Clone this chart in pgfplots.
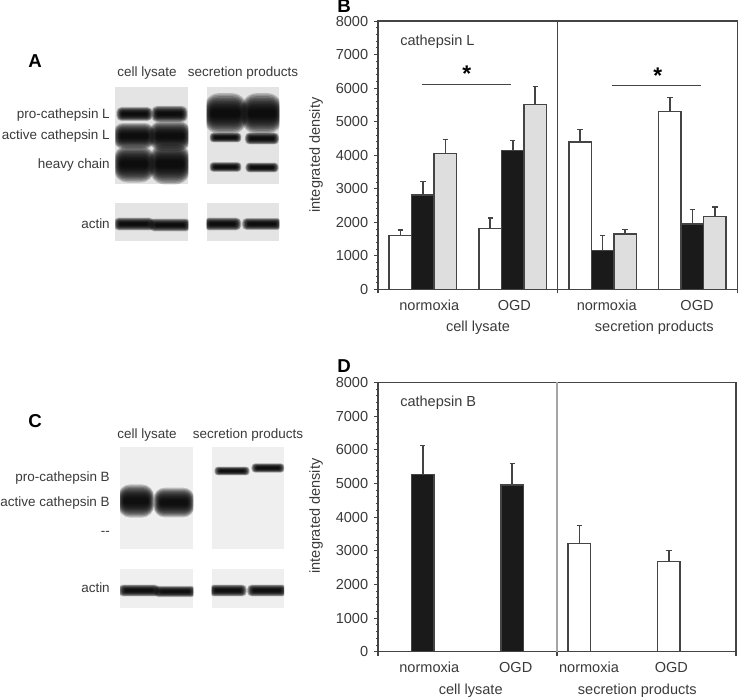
\documentclass[border=0pt]{standalone}
\usepackage{pgfplots}
\pgfplotsset{compat=1.18}
\usepackage{fontspec}
\setmainfont{Liberation Sans}
\definecolor{ink}{HTML}{3A3A3A}
\definecolor{axc}{HTML}{444444}
\definecolor{barblack}{HTML}{1A1A1A}
\definecolor{bargray}{HTML}{DEDEDE}
\definecolor{blotA}{HTML}{E4E4E4}
\definecolor{blotC}{HTML}{EFEFEF}
\newcommand{\fsmall}{\fontsize{10.1pt}{12pt}\selectfont}
\newcommand{\fchart}{\fontsize{10.9pt}{13pt}\selectfont}
% band: centre x, centre y, half width, half height, in px (blurred by nesting)
\newcommand{\band}[4]{%
  \foreach \k in {0,1,...,11}{%
    \pgfmathsetmacro{\aa}{#3*(1.14-0.035*\k)}%
    \pgfmathsetmacro{\bb}{#4*(1.85-0.14*\k)}%
    \pgfmathsetmacro{\rr}{0.75*0.75*min(\aa,\bb)}%
    \fill[black,opacity=0.2,rounded corners=\rr pt] (#1-\aa,#2-\bb) rectangle (#1+\aa,#2+\bb);
  }%
}
\pgfplotsset{
  panel/.style={
    scale only axis,
    width=270pt,
    ymin=0,ymax=8000,
    xmin=-0.5,xmax=3.5,
    ytick={0,1000,...,8000},
    minor y tick num=4,
    xtick={-0.5,1.5,3.5},
    xticklabels={},
    tick align=outside,
    major tick length=3pt,
    minor tick length=1.6pt,
    tick style={axc,line width=0.8pt},
    minor tick style={axc,line width=0.6pt},
    xtick pos=bottom,
    ytick pos=left,
    axis line style={axc,line width=1pt},
    scaled y ticks=false,
    /pgf/number format/assume math mode=true,
    /pgf/number format/.cd,fixed,1000 sep={},precision=0,/pgfplots/.cd,
    yticklabel style={font=\fchart,text=ink,inner sep=0pt,xshift=-4.2pt},
    ybar,
    bar width=0.25,
    clip=false,
  },
  err/.style={
    error bars/.cd,y dir=plus,y explicit,
    error bar style={axc,line width=1.2pt},
    error mark options={axc,rotate=90,mark size=2pt,line width=1.1pt},
  },
  wbar/.style={draw=axc,line width=1.1pt,fill=white,bar shift=-0.25},
  kbar/.style={draw=axc,line width=1.1pt,fill=barblack,bar shift=0},
  gbar/.style={draw=axc,line width=1.1pt,fill=bargray,bar shift=0.25},
}
\begin{document}
\begin{tikzpicture}
\begin{scope}[x=0.75pt,y=-0.75pt]
% ---- blot A
\fill[blotA] (115.3,86.7) rectangle (188.3,184);
\fill[blotA] (206.7,86.7) rectangle (279.3,184);
\fill[blotA] (115.3,203.3) rectangle (188.3,240.7);
\fill[blotA] (206.7,203.3) rectangle (279.3,240.7);
\begin{scope}
\clip (115.3,86.7) rectangle (188.3,184);
\band{134.5}{114}{16}{3.8}\band{169.5}{114}{16}{4.4}
\band{134}{136}{18}{7}\band{170}{136}{18}{8}
\band{134}{164}{18}{10}\band{170}{164}{18}{11}
\end{scope}
\begin{scope}
\clip (206.7,86.7) rectangle (279.3,184);
\band{225.5}{113.5}{19}{11}\band{262}{113.5}{18}{11}
\band{225.5}{137.5}{14}{2.6}\band{262}{138.5}{15}{3.2}
\band{225.5}{167}{14}{2.6}\band{262}{167.5}{14.5}{2.6}
\end{scope}
\begin{scope}
\clip (115.3,203.3) rectangle (188.3,240.7);
\band{134}{224}{18}{3.4}\band{170}{225}{18.5}{3.4}
\end{scope}
\begin{scope}
\clip (206.7,203.3) rectangle (279.3,240.7);
\band{222.5}{224}{16.5}{3.4}\band{262}{224}{17.5}{3.2}
\end{scope}
% ---- blot C
\fill[blotC] (120,447.3) rectangle (193.3,549.3);
\fill[blotC] (211.7,447.3) rectangle (284,549.3);
\fill[blotC] (120,569.3) rectangle (193.3,608.3);
\fill[blotC] (211.7,569.3) rectangle (284,608.3);
\begin{scope}
\clip (120,447.3) rectangle (193.3,549.3);
\band{136}{501}{16}{9}\band{174}{502.5}{18}{8}
\end{scope}
\begin{scope}
\clip (211.7,447.3) rectangle (284,549.3);
\band{232}{471}{15.5}{2.3}\band{268}{468}{14.5}{2.5}
\end{scope}
\begin{scope}
\clip (120,569.3) rectangle (193.3,608.3);
\band{139}{590.5}{18}{3.2}\band{175}{591.5}{18.5}{3}
\end{scope}
\begin{scope}
\clip (211.7,569.3) rectangle (284,608.3);
\band{228}{590.5}{16.5}{3.2}\band{267}{590.5}{17.5}{3.2}
\end{scope}
% ---- blot labels
\begin{scope}[every node/.style={font=\fsmall,text=ink,inner sep=0pt}]
\node at (147,73.5) {cell lysate};
\node at (243,73.5) {secretion products};
\node[anchor=east] at (110,115.5) {pro-cathepsin L};
\node[anchor=east] at (110,136.5) {active cathepsin L};
\node[anchor=east] at (110,165) {heavy chain};
\node[anchor=east] at (110,224) {actin};
\node at (147,435) {cell lysate};
\node at (248,435) {secretion products};
\node[anchor=east] at (110,478) {pro-cathepsin B};
\node[anchor=east] at (110,503) {active cathepsin B};
\node[anchor=east] at (110,533) {-{}-};
\node[anchor=east] at (110,588) {actin};
\end{scope}
% ---- panel letters
\begin{scope}[every node/.style={font=\bfseries\fontsize{14pt}{16pt}\selectfont,text=black,inner sep=0pt}]
\node at (35,61.5) {A};
\node at (344,6.5) {B};
\node at (35,421) {C};
\node at (344,366.5) {D};
\end{scope}
% ---- chart texts
\begin{scope}[every node/.style={font=\fchart,text=ink,inner sep=0pt}]
\node[rotate=90] at (316,155) {integrated density};
\node[rotate=90] at (316,516) {integrated density};
\node[anchor=west] at (400,41.3) {cathepsin L};
\node at (429.3,305.3) {normoxia};
\node at (514.3,305.3) {OGD};
\node at (606.7,305.3) {normoxia};
\node at (697,305.3) {OGD};
\node at (478,328) {cell lysate};
\node at (654.3,328) {secretion products};
\node[anchor=west] at (400,402.7) {cathepsin B};
\node at (429.3,667) {normoxia};
\node at (515.7,667) {OGD};
\node at (589,667) {normoxia};
\node at (671.3,667) {OGD};
\node at (470.7,690.7) {cell lysate};
\node at (637.3,690.7) {secretion products};
\end{scope}
\node[font=\bfseries\fontsize{17pt}{17pt}\selectfont,text=black,inner sep=0pt] at (466.7,74) {*};
\node[font=\bfseries\fontsize{17pt}{17pt}\selectfont,text=black,inner sep=0pt] at (657.7,75.5) {*};
\end{scope}
% ---- panel B
\begin{axis}[panel,at={(283.5pt,-217pt)},anchor=south west,height=201.2pt,width=269.5pt]
\addplot+[wbar,err] coordinates {(0,1610) +- (0,159) (1,1819) +- (0,308) (2,4393) +- (0,377) (3,5297) +- (0,417)};
\addplot+[kbar,err] coordinates {(0,2812) +- (0,398) (1,4134) +- (0,298) (2,1153) +- (0,457) (3,1948) +- (0,437)};
\addplot+[gbar,err] coordinates {(0,4055) +- (0,407) (1,5506) +- (0,536) (2,1650) +- (0,129) (3,2166) +- (0,289)};
\draw[axc,line width=1pt] (axis cs:1.5,0) -- (axis cs:1.5,8000);
\draw[axc,line width=0.75pt] (axis cs:-0.015,6112) -- (axis cs:0.976,6112);
\draw[axc,line width=0.75pt] (axis cs:2.105,6092) -- (axis cs:3.097,6092);
\end{axis}
% ---- panel D
\begin{axis}[panel,at={(283.5pt,-488.8pt)},anchor=south west,height=202pt,width=268.5pt]
\addplot+[wbar,err] coordinates {(2,3208) +- (0,544) (3,2673) +- (0,337)};
\addplot+[kbar,err] coordinates {(0,5267) +- (0,852) (1,4950) +- (0,644)};
\draw[gray!70,line width=1pt] (axis cs:1.5,0) -- (axis cs:1.5,8000);
\end{axis}
\pgfresetboundingbox
\path[use as bounding box] (0pt,0pt) rectangle (554.25pt,-524.25pt);
\end{tikzpicture}
\end{document}
